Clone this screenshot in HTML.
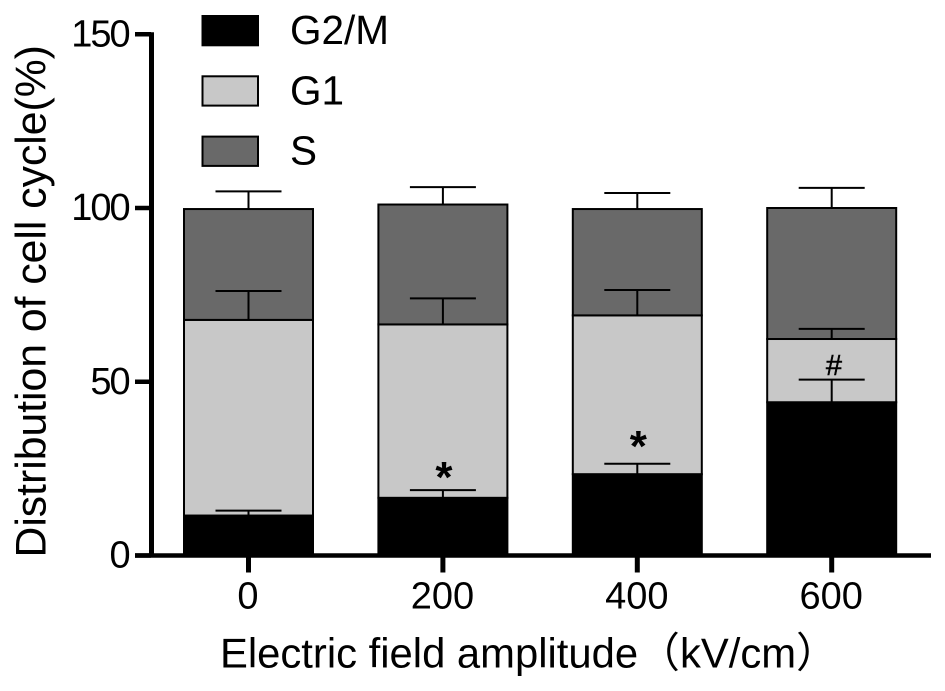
<!DOCTYPE html>
<html>
<head>
<meta charset="utf-8">
<style>
html,body{margin:0;padding:0;background:#fff;}
svg{display:block;font-family:"Liberation Sans","Noto Sans CJK SC",sans-serif;}
</style>
</head>
<body>
<svg id="chart" width="945" height="691" viewBox="0 0 945 691" xmlns="http://www.w3.org/2000/svg"></svg>
<script>
const categories = ['0', '200', '400', '600'];
const g2mValues = [11.5, 16.6, 23.4, 44.1];
const g1Values = [56.3, 49.9, 45.7, 18.2];
const sValues = [31.9, 34.5, 30.6, 37.7];
const g2mErrors = [1.4, 2.2, 3, 6.5];
const g1Errors = [8.3, 7.5, 7.3, 2.9];
const sErrors = [5.1, 5, 4.6, 5.8];
const yTicks = [0, 50, 100, 150];
const annotations = ['', '*', '*', '#'];
const legendNames = ['G2/M', 'G1', 'S'];
const legendColors = ['#000000', '#c8c8c8', '#696969'];

const NS = 'http://www.w3.org/2000/svg';
const svg = document.getElementById('chart');
const y0 = 555.5, yScale = 3.475;
const firstCenter = 248.5, step = 194.4, barW = 129;
const yPos = v => y0 - v * yScale;
const xPos = i => firstCenter + i * step;

function make(tag, attrs, parent) {
  const el = document.createElementNS(NS, tag);
  for (const k in attrs) el.setAttribute(k, attrs[k]);
  (parent || svg).appendChild(el);
  return el;
}

const seriesList = [
  { name: 'g2m', values: g2mValues, errs: g2mErrors, color: legendColors[0] },
  { name: 'g1', values: g1Values, errs: g1Errors, color: legendColors[1] },
  { name: 's', values: sValues, errs: sErrors, color: legendColors[2] }
];

categories.forEach((cat, i) => {
  let base = 0;
  seriesList.forEach(s => {
    const top = base + s.values[i];
    const r = make('rect', { x: xPos(i) - barW / 2, y: yPos(top), width: barW, height: yPos(base) - yPos(top), fill: s.color, stroke: '#000', 'stroke-width': 2 });
    
    
    base = top;
  });
});

categories.forEach((cat, i) => {
  let base = 0;
  seriesList.forEach(s => {
    const top = base + s.values[i];
    const ex = xPos(i);
    const err = make('path', { d: `M${ex} ${yPos(top)}V${yPos(top + s.errs[i])}M${ex - 33} ${yPos(top + s.errs[i])}H${ex + 33}`, fill: 'none', stroke: '#000', 'stroke-width': 2 });
    
    
    base = top;
  });
  if (annotations[i]) {
    const capTop = g2mValues[i] + g2mErrors[i];
    const isStar = annotations[i] === '*';
    const dy = i === 1 ? 1.7 : i === 2 ? -2.7 : -4.7;
    const t = make('text', { x: xPos(i) + (isStar ? 1 : 2.3), y: yPos(capTop) + dy, 'font-size': isStar ? 44 : 29, 'font-weight': isStar ? 'bold' : 'normal', stroke: isStar ? 'none' : '#000', 'stroke-width': isStar ? 0 : 0.5, 'text-anchor': 'middle', fill: '#000' });
    t.textContent = annotations[i];
    
    
  }
});

const yAxis = make('path', { d: `M151.5 ${yPos(150) - 2}V${y0 + 2}`, stroke: '#000', 'stroke-width': 5, fill: 'none' });


const xAxis = make('path', { d: `M135 ${y0}H931`, stroke: '#000', 'stroke-width': 4.5, fill: 'none' });



yTicks.forEach(v => {
  const tick = make('line', { x1: 135, x2: 151, y1: yPos(v), y2: yPos(v), stroke: '#000', 'stroke-width': 4.5 });
  
  
  const label = make('text', { x: 128.7, y: yPos(v) + 12.2, 'font-size': 38, 'letter-spacing': -2, 'text-anchor': 'end', fill: '#000' });
  label.textContent = v;
  
  
});

categories.forEach((cat, i) => {
  const tick = make('line', { x1: xPos(i), x2: xPos(i), y1: y0, y2: y0 + 17, stroke: '#000', 'stroke-width': 5 });
  
  
  const label = make('text', { x: xPos(i) - 0.5, y: 608.5, 'font-size': 38, 'text-anchor': 'middle', fill: '#000' });
  label.textContent = cat;
  
  
});

legendNames.forEach((name, i) => {
  const ly = 16 + i * 60.3;
  const swatch = make('rect', { x: 202.5, y: ly, width: 55.5, height: 29.3, fill: legendColors[i], stroke: '#000', 'stroke-width': 2 });
  
  
  const label = make('text', { x: 290, y: ly + 28, 'font-size': 40.5, fill: '#000' });
  label.textContent = name;
  
  
});

const xTitle = make('text', { x: 220, y: 667.5, 'font-size': 41.8, fill: '#000' });
xTitle.textContent = 'Electric field amplitude（kV/cm）';



const yTitle = make('text', { transform: 'translate(45.5 557.5) rotate(-90)', 'font-size': 42.7, fill: '#000' });
yTitle.textContent = 'Distribution of cell cycle(%)';


</script>
</body>
</html>
